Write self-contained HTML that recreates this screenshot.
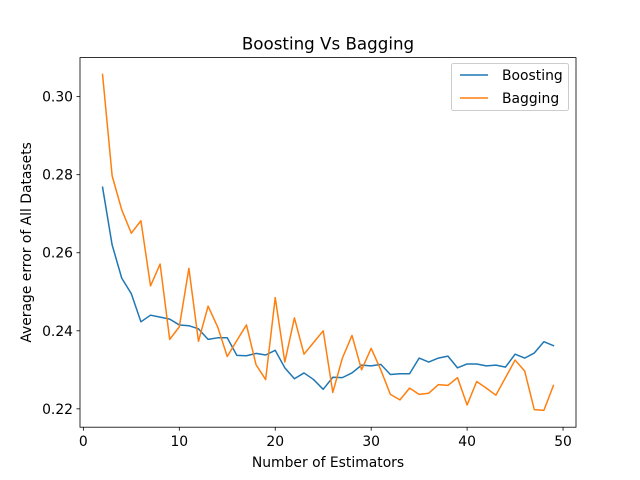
<!DOCTYPE html>
<html><head><meta charset="utf-8"><style>
body{margin:0;background:#fff}
svg{display:block;font-family:"DejaVu Sans","Liberation Sans",sans-serif}
</style></head><body>
<svg id="chart" width="640" height="480"></svg>
<script>
const estimators=[2,3,4,5,6,7,8,9,10,11,12,13,14,15,16,17,18,19,20,21,22,23,24,25,26,27,28,29,30,31,32,33,34,35,36,37,38,39,40,41,42,43,44,45,46,47,48,49];
const boosting=[0.2768,0.262,0.2535,0.2495,0.2423,0.2440,0.2435,0.2430,0.2415,0.2413,0.2405,0.2378,0.2382,0.2382,0.2337,0.2336,0.2342,0.2338,0.2350,0.2305,0.2277,0.2292,0.2275,0.2250,0.2281,0.2280,0.2292,0.2312,0.2310,0.2314,0.2288,0.2290,0.2290,0.2330,0.2320,0.2330,0.2335,0.2305,0.2315,0.2315,0.2310,0.2312,0.2307,0.2340,0.2330,0.2343,0.2372,0.2362];
const bagging=[0.3057,0.2797,0.2710,0.2650,0.2682,0.2515,0.2571,0.2378,0.2410,0.2560,0.2373,0.2463,0.2410,0.2334,0.2375,0.2415,0.2313,0.2275,0.2485,0.2320,0.2433,0.2340,0.2370,0.2400,0.2242,0.2330,0.2388,0.2300,0.2355,0.2300,0.2237,0.2223,0.2253,0.2237,0.2240,0.2262,0.2260,0.2280,0.2210,0.2270,0.2253,0.2235,0.2280,0.2325,0.2297,0.2198,0.2196,0.2260];
const xTicks=[0,10,20,30,40,50];
const yTicks=[0.22,0.24,0.26,0.28,0.30];
const yTickLabels=["0.22","0.24","0.26","0.28","0.30"];

const NS="http://www.w3.org/2000/svg";
const svg=document.getElementById('chart');
const L=80,R=576,T=57.6,B=427.2;
const allY=boosting.concat(bagging);
const xmin0=Math.min(...estimators),xmax0=Math.max(...estimators);
const ymin0=Math.min(...allY),ymax0=Math.max(...allY);
const xm=(xmax0-xmin0)*0.05,ym=(ymax0-ymin0)*0.05;
const xmin=xmin0-xm,xmax=xmax0+xm,ymin=ymin0-ym,ymax=ymax0+ym;
function sx(v){return L+(v-xmin)/(xmax-xmin)*(R-L);}
function sy(v){return B-(v-ymin)/(ymax-ymin)*(B-T);}
function mk(tag,attrs,parent){const e=document.createElementNS(NS,tag);for(const k in attrs)e.setAttribute(k,attrs[k]);(parent||svg).appendChild(e);return e;}

const title=mk('text',{x:(L+R)/2,y:49.5,'text-anchor':'middle','font-size':'16.7',fill:'#000'});
title.textContent='Boosting Vs Bagging';



xTicks.forEach(t=>{
  const x=sx(t);
  const ln=mk('line',{x1:x,x2:x,y1:B,y2:B+3.5,stroke:'#000','stroke-width':0.8});
  
  
  const tx=mk('text',{x:x,y:B+19,'text-anchor':'middle','font-size':'13.9',fill:'#000'});
  tx.textContent=String(t);
  
  
});
yTicks.forEach((t,i)=>{
  const y=sy(t);
  const ln=mk('line',{x1:L-3.5,x2:L,y1:y,y2:y,stroke:'#000','stroke-width':0.8});
  
  
  const tx=mk('text',{x:L-7,y:y+5,'text-anchor':'end','font-size':'13.9',fill:'#000'});
  tx.textContent=yTickLabels[i];
  
  
});
const xl=mk('text',{x:(L+R)/2,y:467,'text-anchor':'middle','font-size':'13.9',fill:'#000'});
xl.textContent='Number of Estimators';


const yl=mk('text',{x:31,y:(T+B)/2,'text-anchor':'middle','font-size':'13.9',fill:'#000',transform:'rotate(-90 31 '+((T+B)/2)+')'});
yl.textContent='Average error of All Datasets';



function line(vals,color,name){
  const d=estimators.map((x,i)=>(i?'L':'M')+sx(x).toFixed(2)+' '+sy(vals[i]).toFixed(2)).join(' ');
  const p=mk('path',{d:d,fill:'none',stroke:color,'stroke-width':1.5,'stroke-linejoin':'round','stroke-linecap':'square'});
  
  
}
line(boosting,'#1f77b4','boosting-line');
line(bagging,'#ff7f0e','bagging-line');

const frame=mk('rect',{x:L,y:T,width:R-L,height:B-T,fill:'none',stroke:'#000','stroke-width':0.8});



const lg=mk('g',{});


mk('rect',{x:451.5,y:63.5,width:117,height:47,rx:2,fill:'#fff','fill-opacity':0.8,stroke:'#ccc','stroke-width':1},lg);
[['Boosting','#1f77b4',75],['Bagging','#ff7f0e',98]].forEach(([n,c,y])=>{
  const g=mk('g',{},lg);
  
  
  mk('line',{x1:460,x2:488,y1:y,y2:y,stroke:c,'stroke-width':1.5},g);
  const t=mk('text',{x:502,y:y+5,'font-size':'13.9',fill:'#000'},g);
  t.textContent=n;
});
</script>
</body></html>
